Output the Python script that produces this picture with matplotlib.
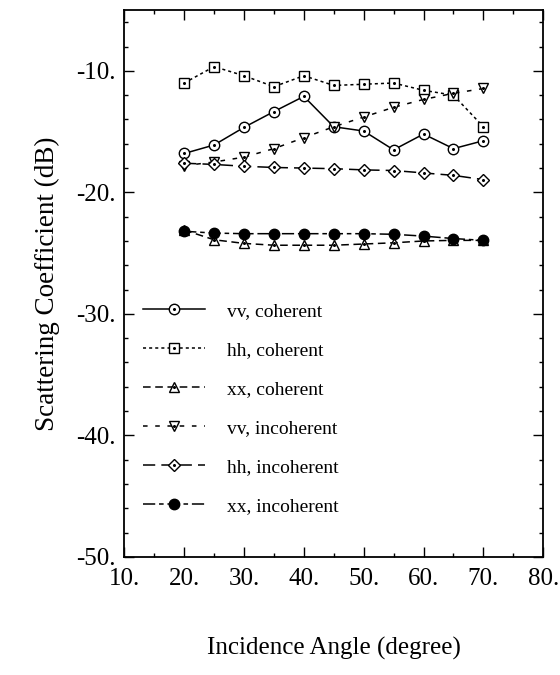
import numpy as np
import matplotlib
matplotlib.use("Agg")
import matplotlib.pyplot as plt
from matplotlib.ticker import MultipleLocator, FuncFormatter
from matplotlib.legend_handler import HandlerTuple

plt.rcParams['font.family'] = ['Liberation Serif', 'DejaVu Serif']

# incidence angles (degree)
angles = [20, 25, 30, 35, 40, 45, 50, 55, 60, 65, 70]

# scattering coefficients (dB)
vv_coh = [-16.8, -16.1, -14.65, -13.35, -12.1, -14.6, -14.95, -16.5, -15.2, -16.4, -15.75]
hh_coh = [-11.0, -9.65, -10.4, -11.3, -10.4, -11.2, -11.1, -11.0, -11.6, -12.0, -14.6]
xx_coh = [-23.1, -23.9, -24.2, -24.35, -24.35, -24.35, -24.25, -24.15, -24.0, -23.95, -23.95]
vv_inc = [-17.8, -17.5, -17.1, -16.4, -15.5, -14.6, -13.8, -13.0, -12.35, -11.85, -11.45]
hh_inc = [-17.6, -17.7, -17.85, -17.95, -18.0, -18.05, -18.15, -18.2, -18.4, -18.6, -18.95]
xx_inc = [-23.2, -23.35, -23.4, -23.4, -23.4, -23.4, -23.4, -23.45, -23.6, -23.8, -23.95]

labels = ["vv, coherent", "hh, coherent", "xx, coherent",
          "vv, incoherent", "hh, incoherent", "xx, incoherent"]

# values, dash pattern, marker, marker size, filled
series = [
    (vv_coh, "-", "o", 7.5, False),
    (hh_coh, (0, (2, 2)), "s", 7.0, False),
    (xx_coh, (0, (5, 3)), "^", 7.5, False),
    (vv_inc, (0, (3, 5)), "v", 7.5, False),
    (hh_inc, (0, (8, 4)), "D", 6.5, False),
    (xx_inc, (0, (8, 2.5, 3, 2.5)), "o", 7.5, True),
]

fig = plt.figure(figsize=(5.6, 6.75), dpi=100)
ax = fig.add_axes([0.222, 0.175, 0.748, 0.81])

handles = []
for vals, ls, mk, ms, filled in series:
    line, = ax.plot(angles, vals, color="k", lw=1.1, linestyle=ls,
                    marker=mk, ms=ms, mew=1.0,
                    mfc="k" if filled else "white", mec="k")
    if filled:
        handles.append(line)
    else:
        # small dot in the centre of the open markers
        dot, = ax.plot(angles, vals, linestyle="none", marker=".",
                       ms=2.4, color="k")
        handles.append((line, dot))

ax.set_xlim(10, 80)
ax.set_ylim(-50, -5)
ax.xaxis.set_major_locator(MultipleLocator(10))
ax.xaxis.set_minor_locator(MultipleLocator(5))
ax.yaxis.set_major_locator(MultipleLocator(10))
ax.yaxis.set_minor_locator(MultipleLocator(2))
fmt = FuncFormatter(lambda v, p: "%d." % round(v))
ax.xaxis.set_major_formatter(fmt)
ax.yaxis.set_major_formatter(fmt)
ax.set_yticks([-50, -40, -30, -20, -10])

ax.tick_params(which="both", direction="in", top=True, right=True,
               width=1.0, labelsize=18, colors="k")
ax.tick_params(which="major", length=7)
ax.tick_params(which="minor", length=3)
ax.tick_params(axis="x", pad=8)
ax.tick_params(axis="y", pad=6)
for s in ax.spines.values():
    s.set_linewidth(1.3)

ax.set_xlabel("Incidence Angle (degree)", fontsize=18, labelpad=34)
ax.set_ylabel("Scattering Coefficient (dB)", fontsize=19.5, labelpad=12)

ax.legend(handles, labels, handler_map={tuple: HandlerTuple(ndivide=1, pad=0)},
          loc="upper left", bbox_to_anchor=(0.045, 0.465), frameon=False,
          fontsize=14, handlelength=3.2, handletextpad=1.1,
          labelspacing=1.1, borderpad=0, borderaxespad=0)

fig.savefig("out.png", dpi=100)
